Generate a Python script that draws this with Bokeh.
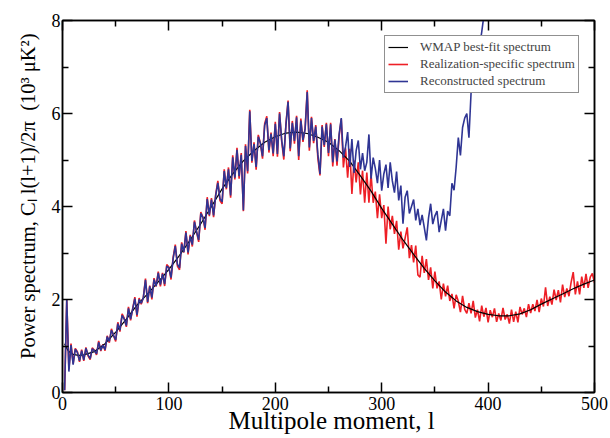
from bokeh.plotting import figure
from bokeh.models import Range1d, LinearAxis, Legend, LegendItem, FixedTicker
from bokeh.embed import file_html
from bokeh.resources import INLINE

# ---------------- data ----------------
ell_fit = [2, 4, 6, 10, 15, 20, 30, 40, 50, 60, 70, 80, 90, 100, 110, 120, 130, 140,
           150, 160, 170, 180, 190, 200, 210, 220, 230, 240, 250, 260, 270, 280, 290,
           300, 310, 320, 330, 340, 350, 360, 370, 380, 390, 400, 410, 420, 430, 440,
           450, 460, 470, 480, 490, 500]
cl_fit = [1.05, 0.95, 0.88, 0.82, 0.80, 0.81, 0.88, 1.05, 1.30, 1.58, 1.88, 2.12, 2.38,
          2.65, 2.95, 3.28, 3.63, 4.00, 4.38, 4.70, 4.98, 5.20, 5.38, 5.50, 5.58, 5.60,
          5.57, 5.49, 5.38, 5.20, 4.97, 4.66, 4.33, 3.96, 3.62, 3.28, 2.97, 2.67, 2.40,
          2.16, 1.97, 1.83, 1.74, 1.68, 1.65, 1.65, 1.69, 1.78, 1.90, 2.01, 2.12, 2.23,
          2.33, 2.42]

# realization-specific spectrum, l = 2, 4, ..., 500
cl_real = [
    0.05, 2.00, 0.50, 1.05, 0.62, 0.95, 0.88, 0.66, 0.92, 0.68,
    0.97, 0.79, 0.71, 0.96, 0.91, 0.81, 1.11, 0.89, 1.04, 0.90,
    1.22, 1.07, 1.37, 1.22, 1.10, 1.51, 1.31, 1.69, 1.60, 1.41,
    1.84, 1.55, 1.81, 2.05, 1.63, 2.03, 1.90, 2.05, 2.45, 1.92,
    2.30, 2.00, 2.46, 2.28, 2.60, 2.28, 2.57, 2.29, 2.75, 2.70,
    2.43, 2.91, 3.18, 2.72, 2.64, 3.23, 3.01, 3.47, 2.97, 3.39,
    3.14, 3.70, 3.45, 3.24, 3.88, 3.77, 3.50, 4.20, 3.79, 4.18,
    3.77, 4.26, 4.55, 4.13, 4.06, 4.80, 4.37, 4.84, 4.19, 5.10,
    4.58, 5.26, 4.60, 5.15, 3.90, 5.34, 4.71, 6.08, 4.94, 5.38,
    4.79, 5.54, 5.36, 5.03, 5.78, 5.94, 5.16, 5.59, 5.08, 5.82,
    5.07, 6.03, 5.40, 5.01, 5.78, 6.28, 5.19, 5.84, 5.35, 5.95,
    5.00, 5.89, 5.39, 5.68, 6.50, 5.20, 5.93, 5.36, 5.75, 5.04,
    4.67, 5.75, 5.28, 5.80, 5.08, 5.80, 4.86, 5.45, 4.88, 5.52,
    5.88, 4.84, 5.25, 4.62, 5.24, 4.27, 4.99, 4.52, 4.95, 4.26,
    4.77, 4.08, 4.73, 4.08, 4.69, 4.08, 4.32, 3.75, 4.26, 3.75,
    4.03, 3.20, 4.00, 3.51, 3.80, 3.41, 3.69, 3.07, 3.46, 3.10,
    3.32, 3.55, 2.89, 3.17, 2.80, 3.16, 2.53, 2.48, 2.94, 2.57,
    2.87, 2.42, 2.69, 2.24, 2.60, 2.24, 2.39, 2.00, 2.34, 2.07,
    2.30, 1.97, 2.12, 1.81, 2.10, 1.96, 1.73, 2.08, 1.79, 1.70,
    1.92, 1.70, 1.97, 1.61, 1.78, 1.53, 1.87, 1.63, 1.82, 1.51,
    1.77, 1.62, 1.81, 1.52, 1.70, 1.55, 1.82, 1.57, 1.68, 1.48,
    1.78, 1.52, 1.74, 1.51, 1.84, 1.68, 1.81, 1.62, 1.90, 1.71,
    1.90, 1.75, 1.99, 1.73, 2.02, 1.85, 2.26, 1.86, 2.06, 1.89,
    2.21, 1.99, 2.20, 1.94, 2.32, 2.05, 2.24, 2.07, 2.37, 2.59,
    2.11, 2.39, 2.11, 2.49, 2.25, 2.55, 2.25, 2.48, 2.56, 2.36,
]
ell_real = list(range(2, 2 + 2 * len(cl_real), 2))

# reconstructed spectrum, l = 2, 4, ..., 400
cl_rec = [
    0.05, 2.00, 0.45, 1.02, 0.60, 0.93, 0.86, 0.68, 0.90, 0.70,
    0.95, 0.81, 0.73, 0.94, 0.90, 0.83, 1.08, 0.91, 1.02, 0.92,
    1.20, 1.10, 1.34, 1.23, 1.13, 1.48, 1.34, 1.66, 1.58, 1.44,
    1.81, 1.58, 1.80, 2.02, 1.67, 2.00, 1.92, 2.04, 2.42, 1.95,
    2.28, 2.04, 2.43, 2.29, 2.57, 2.32, 2.55, 2.33, 2.72, 2.68,
    2.47, 2.88, 3.15, 2.76, 2.68, 3.20, 3.02, 3.44, 3.01, 3.36,
    3.18, 3.67, 3.46, 3.28, 3.85, 3.76, 3.54, 4.16, 3.82, 4.15,
    3.81, 4.24, 4.51, 4.17, 4.10, 4.76, 4.40, 4.80, 4.24, 5.06,
    4.62, 5.22, 4.65, 5.11, 3.92, 5.30, 4.76, 6.05, 4.98, 5.34,
    4.85, 5.50, 5.36, 5.08, 5.74, 5.90, 5.21, 5.56, 5.14, 5.78,
    5.13, 6.00, 5.43, 5.08, 5.75, 6.25, 5.25, 5.80, 5.41, 5.92,
    5.08, 5.85, 5.43, 5.66, 6.46, 5.27, 5.90, 5.41, 5.72, 5.12,
    4.70, 5.72, 5.32, 5.77, 5.15, 5.77, 4.95, 5.44, 4.97, 5.55,
    5.90, 5.05, 5.28, 5.60, 4.85, 5.45, 4.72, 5.20, 5.42, 4.80,
    5.15, 4.77, 4.95, 5.55, 4.60, 5.05, 4.82, 4.50, 5.00, 4.34,
    4.70, 4.90, 4.40, 4.95, 4.55, 4.30, 4.75, 4.13, 4.45, 3.63,
    4.20, 4.34, 3.85, 4.00, 4.15, 3.70, 3.95, 3.60, 3.82, 3.55,
    3.27, 3.75, 4.06, 3.62, 3.80, 3.90, 3.45, 3.70, 3.95, 3.48,
    3.90, 3.80, 4.50, 4.35, 4.85, 5.48, 5.10, 5.70, 5.90, 6.00,
    5.48, 6.45, 6.60, 7.00, 7.20, 7.45, 7.75, 8.10, 8.60, 9.00,
]
ell_rec = list(range(2, 2 + 2 * len(cl_rec), 2))

x_ticks = [0, 100, 200, 300, 400, 500]
x_minor = [50, 150, 250, 350, 450]
y_ticks = [0, 2, 4, 6, 8]
y_minor = [1, 3, 5, 7]

legend_labels = ["WMAP best-fit spectrum", "Realization-specific spectrum",
                 "Reconstructed spectrum"]
x_title = "\u00a0Multipole moment, l"
y_title = ("\u00a0\u00a0\u00a0\u00a0Power spectrum, C\u2097 l(l+1)/2\u03c0\u00a0 "
           "(10\u00b3 \u03bcK\u00b2)")

RED = "#ee1f26"
BLUE = "#2f3594"
FONT = "Liberation Serif"

# ---------------- figure ----------------
p = figure(width=610, height=438, output_backend="svg", toolbar_location=None,
           x_range=Range1d(0, 500), y_range=Range1d(0, 8),
           min_border_left=62, min_border_right=16, min_border_top=20,
           min_border_bottom=46)
p.xgrid.visible = False
p.ygrid.visible = False
p.outline_line_color = "black"
p.outline_line_width = 1.5
p.background_fill_color = "white"
p.border_fill_color = "white"

bottom_axis = p.below[0]
left_axis = p.left[0]
top_axis = LinearAxis()
right_axis = LinearAxis()
p.add_layout(top_axis, "above")
p.add_layout(right_axis, "right")

for ax in [bottom_axis, top_axis]:
    ax.ticker = FixedTicker(ticks=x_ticks, minor_ticks=x_minor)
for ax in [left_axis, right_axis]:
    ax.ticker = FixedTicker(ticks=y_ticks, minor_ticks=y_minor)

for ax in [bottom_axis, left_axis, top_axis, right_axis]:
    ax.major_tick_in = 10
    ax.major_tick_out = 0
    ax.minor_tick_in = 6
    ax.minor_tick_out = 0
    ax.axis_line_width = 1.5
    ax.axis_line_color = "black"
    ax.major_tick_line_width = 1.5
    ax.minor_tick_line_width = 1.5
    ax.major_tick_line_color = "black"
    ax.minor_tick_line_color = "black"
    ax.major_label_text_font = FONT
    ax.major_label_text_font_size = "18px"
    ax.major_label_text_color = "black"

bottom_axis.major_label_standoff = 4
left_axis.major_label_standoff = 2
for ax in [top_axis, right_axis]:
    ax.major_label_text_font_size = "0px"
    ax.major_label_standoff = 0

bottom_axis.axis_label = x_title
bottom_axis.axis_label_text_font = FONT
bottom_axis.axis_label_text_font_size = "25px"
bottom_axis.axis_label_text_font_style = "normal"
bottom_axis.axis_label_text_color = "black"
bottom_axis.axis_label_standoff = -6

left_axis.axis_label = y_title
left_axis.axis_label_text_font = FONT
left_axis.axis_label_text_font_size = "20.5px"
left_axis.axis_label_text_font_style = "normal"
left_axis.axis_label_text_color = "black"
left_axis.axis_label_standoff = 10

# ---------------- data lines ----------------
r_real = p.line(ell_real, cl_real, line_color=RED, line_width=1.6)
r_fit = p.line(ell_fit, cl_fit, line_color="black", line_width=1.2)
r_rec = p.line(ell_rec, cl_rec, line_color=BLUE, line_width=1.6)

legend = Legend(items=[LegendItem(label=legend_labels[0], renderers=[r_fit]),
                       LegendItem(label=legend_labels[1], renderers=[r_real]),
                       LegendItem(label=legend_labels[2], renderers=[r_rec])],
                location=(322, 299))
legend.label_text_font = FONT
legend.label_text_font_size = "13px"
legend.glyph_width = 20
legend.glyph_height = 16
legend.label_height = 16
legend.label_standoff = 12
legend.padding = 3
legend.spacing = 1
legend.margin = 0
legend.border_line_color = "#222222"
legend.border_line_width = 1.5
legend.background_fill_color = "white"
legend.background_fill_alpha = 1.0
p.add_layout(legend)

open("out.html", "w").write(file_html(p, INLINE))
